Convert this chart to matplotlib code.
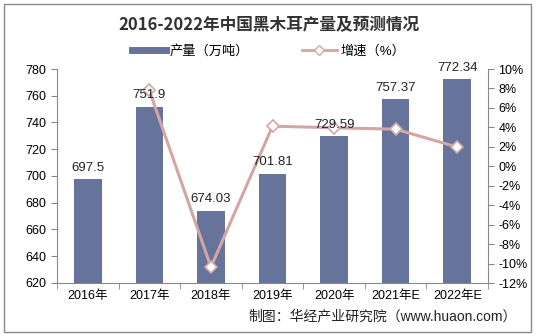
import matplotlib
matplotlib.use("Agg")
import matplotlib.pyplot as plt
from matplotlib.lines import Line2D
from matplotlib.patches import Rectangle
import numpy as np

plt.rcParams['font.family'] = ['Liberation Sans', 'Noto Sans CJK SC', 'DejaVu Sans']

# data
years = ["2016年", "2017年", "2018年", "2019年", "2020年", "2021年E", "2022年E"]
output = [697.5, 751.9, 674.03, 701.81, 729.59, 757.37, 772.34]
growth = [None, 7.80, -10.36, 4.12, 3.96, 3.81, 1.98]
output_labels = ["697.5", "751.9", "674.03", "701.81", "729.59", "757.37", "772.34"]

bar_color = "#66739A"
line_color = "#D4A5A5"

fig = plt.figure(figsize=(5.37, 3.36), dpi=100)
ax = fig.add_axes([57 / 537, 1 - 283 / 336, (488 - 57) / 537, (283 - 69) / 336])

x = np.arange(len(years))
ax.bar(x, output, width=0.45, color=bar_color, zorder=2)

ax.set_ylim(620, 780)
ax.set_yticks(np.arange(620, 781, 20))
ax.set_xlim(-0.5, len(years) - 0.5)
ax.set_xticks(x)
ax.set_xticklabels(years, fontsize=9)
ax.set_xticks(np.arange(-0.5, len(years), 1), minor=True)
ax.tick_params(axis="x", which="major", length=0, pad=5)
ax.tick_params(axis="x", which="minor", length=4, color="#888888")
ax.tick_params(axis="y", labelsize=9, length=4, color="#888888")
for side in ["top", "right"]:
    ax.spines[side].set_visible(False)
for side in ["left", "bottom"]:
    ax.spines[side].set_color("#888888")

ax2 = ax.twinx()
gx = [xi for xi, g in zip(x, growth) if g is not None]
gy = [g for g in growth if g is not None]
ax2.plot(gx, gy, color=line_color, lw=2.2, marker="D", markersize=6,
         markerfacecolor="white", markeredgecolor=line_color, markeredgewidth=1.2, zorder=4)
ax2.set_ylim(-12, 10)
ax2.set_yticks(np.arange(-12, 11, 2))
ax2.set_yticklabels([f"{t}%" for t in range(-12, 11, 2)], fontsize=9)
ax2.tick_params(axis="y", length=4, color="#888888")
for side in ["top", "left", "bottom"]:
    ax2.spines[side].set_visible(False)
ax2.spines["right"].set_color("#888888")
ax2.patch.set_visible(False)

# bar value labels drawn on top of the growth line
for xi, v, lab in zip(x, output, output_labels):
    ax2.text(xi, v + 4, lab, transform=ax.transData, ha="center", va="bottom",
             fontsize=9.5, color="#222222", zorder=6)

fig.text(0.5, 1 - 25 / 336, "2016-2022年中国黑木耳产量及预测情况", ha="center", va="center",
         fontsize=12, fontweight="bold", color="#333333",
         family=["Noto Sans CJK SC", "DejaVu Sans"])

handles = [
    Line2D([], [], color=bar_color, lw=5),
    Line2D([], [], color=line_color, lw=2, marker="D", markersize=5,
           markerfacecolor="white", markeredgecolor=line_color),
]
fig.legend(handles, ["产量（万吨）", "增速（%）"], loc="center",
           bbox_to_anchor=(0.5, 1 - 51 / 336), ncol=2, frameon=False,
           fontsize=9.5, handlelength=2.6, columnspacing=4, handletextpad=0.3)

fig.text(0.962, 1 - 316 / 336, "制图：华经产业研究院（www.huaon.com）", ha="right",
         va="center", fontsize=10, color="#222222")

fig.patches.append(Rectangle((4 / 537, 4 / 336), 527 / 537, 328 / 336, transform=fig.transFigure,
                             fill=False, edgecolor="#888888", lw=1))

fig.savefig("out.png", dpi=100)
